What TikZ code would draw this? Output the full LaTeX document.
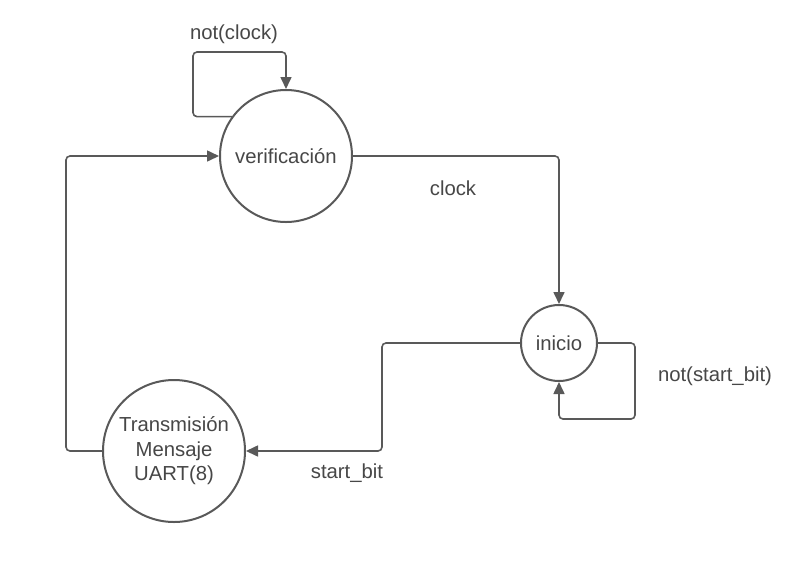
\documentclass[tikz,border=0pt]{standalone}
\usepackage{fontspec}
\setmainfont{Liberation Sans}
\usetikzlibrary{arrows.meta}
\definecolor{ln}{HTML}{595959}
\definecolor{tx}{HTML}{474747}
\begin{document}
\begin{tikzpicture}[x=1pt,y=-1pt,
  state/.style={circle,draw=ln,line width=2pt,fill=white,inner sep=0pt,text=tx,align=center,font=\fontsize{20.3}{24.5}\selectfont},
  conn/.style={draw=ln,line width=1.6pt,rounded corners=4pt,-{Triangle[length=12pt,width=11pt]}},
  lbl/.style={text=tx,font=\fontsize{20.3}{24}\selectfont,inner sep=0pt}]
\useasboundingbox[fill=white] (0,0) rectangle (812,566);
\node[state,minimum size=132pt] (v) at (286,156) {verificación};
\node[state,minimum size=76pt] (i) at (559,343) {inicio};
\node[state,minimum size=142pt] (t) at (174,451) {Transmisión\\Mensaje\\UART(8)};
\draw[conn] (v.144) -| (193,52) -| (v.north);
\draw[conn] (v.east) -| (i.north);
\draw[conn] (i.east) -| (635,419) -| (i.south);
\draw[conn] (i.west) -| (382,451) -- (t.east);
\draw[conn] (t.west) -| (66,156) -- (v.west);
\node[lbl] (l1) at (234,34) {not(clock)};
\node[lbl] (l2) at (453,188) {clock};
\node[lbl] (l3) at (715,376) {not(start\_bit)};
\node[lbl] (l4) at (347,473) {start\_bit};
\end{tikzpicture}
\end{document}
